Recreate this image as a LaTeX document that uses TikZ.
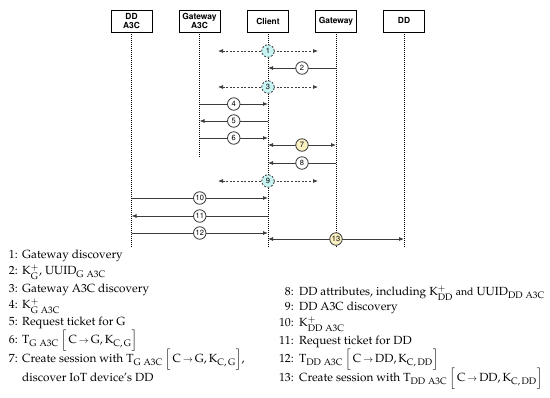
\documentclass[tikz,border=0pt]{standalone}
\usepackage[T1]{fontenc}
\usepackage{mathpazo}
\usetikzlibrary{arrows.meta}
\DeclareMathSizes{11.8}{11.8}{9.4}{7}
\definecolor{cyanfill}{HTML}{C8F4F4}
\definecolor{yelfill}{HTML}{FBF0C0}
\definecolor{linegray}{HTML}{3C3C3C}
\newcommand{\hdrfont}{\fontsize{8.4}{9.2}\fontfamily{phv}\bfseries\selectfont}
\newcommand{\numfont}{\fontsize{7.5}{8}\fontfamily{phv}\selectfont}
\newcommand{\txtfont}{\fontsize{11.8}{14}\selectfont}
\newcommand{\smallfont}{\fontsize{10.5}{12}\selectfont}
\newcommand{\rmm}[1]{\mathrm{#1}}
\newcommand{\arr}{\,{\scriptstyle\rightarrow}\,}
\begin{document}
\begin{tikzpicture}[x=1pt,y=-1pt,
  actor/.style={draw, line width=0.8pt, minimum width=41pt, minimum height=22pt,
    inner sep=1pt, align=center, font=\hdrfont, fill=white},
  life/.style={line width=0.7pt, dash pattern=on 1pt off 1pt},
  msg/.style={draw=linegray, line width=0.8pt, -{Latex[length=5pt,width=4pt]}},
  dmsg/.style={draw=linegray, line width=0.8pt, {Latex[length=5pt,width=4pt]}-{Latex[length=5pt,width=4pt]}},
  disc/.style={draw=linegray, line width=0.7pt, dash pattern=on 2pt off 1.6pt,
    {Latex[length=5pt,width=4pt]}-{Latex[length=5pt,width=4pt]}},
  num/.style={circle, draw, line width=0.8pt, fill=white, minimum size=12.5pt,
    inner sep=0pt, font=\numfont},
  lbl/.style={anchor=base east, inner sep=0pt, font=\txtfont},
  txt/.style={anchor=base west, inner sep=0pt, font=\txtfont}
]
\useasboundingbox (0,0) rectangle (550,398);

% actors
\node[actor] (hDDA) at (131.5,21) {DD\\A3C};
\node[actor] (hGWA) at (199.5,21) {Gateway\\A3C};
\node[actor] (hCL)  at (268,21) {Client};
\node[actor] (hGW)  at (336,21) {Gateway};
\node[actor] (hDD)  at (404,21) {DD};

% lifelines
\coordinate (eDDA) at (131.5,247);
\coordinate (eGWA) at (199.5,158);
\coordinate (eCL)  at (268,247);
\coordinate (eGW)  at (336,247);
\coordinate (eDD)  at (404,247);
\draw[life] (hDDA.south) -- (eDDA);
\draw[life] (hGWA.south) -- (eGWA);
\draw[life] (hCL.south) -- (eCL);
\draw[life] (hGW.south) -- (eGW);
\draw[life] (hDD.south) -- (eDD);

% message end points
\coordinate (m1a) at (218,51);   \coordinate (m1b) at (318,51);
\coordinate (m2a) at (336,68);   \coordinate (m2b) at (268,68);
\coordinate (m3a) at (218,87);   \coordinate (m3b) at (318,87);
\coordinate (m4a) at (199.5,104); \coordinate (m4b) at (268,104);
\coordinate (m5a) at (268,121);  \coordinate (m5b) at (199.5,121);
\coordinate (m6a) at (199.5,138); \coordinate (m6b) at (268,138);
\coordinate (m7a) at (268,145);  \coordinate (m7b) at (336,145);
\coordinate (m8a) at (336,163);  \coordinate (m8b) at (268,163);
\coordinate (m9a) at (218,181);  \coordinate (m9b) at (318,181);
\coordinate (m10a) at (131.5,198); \coordinate (m10b) at (268,198);
\coordinate (m11a) at (268,216); \coordinate (m11b) at (131.5,216);
\coordinate (m12a) at (131.5,233); \coordinate (m12b) at (268,233);
\coordinate (m13a) at (268,239); \coordinate (m13b) at (404,239);

\draw[disc] (m1a) -- node[num, fill=cyanfill] (n1) {1} (m1b);
\draw[msg]  (m2a) -- node[num] (n2) {2} (m2b);
\draw[disc] (m3a) -- node[num, fill=cyanfill] (n3) {3} (m3b);
\draw[msg]  (m4a) -- node[num] (n4) {4} (m4b);
\draw[msg]  (m5a) -- node[num] (n5) {5} (m5b);
\draw[msg]  (m6a) -- node[num] (n6) {6} (m6b);
\draw[dmsg] (m7a) -- node[num, fill=yelfill] (n7) {7} (m7b);
\draw[msg]  (m8a) -- node[num] (n8) {8} (m8b);
\draw[disc] (m9a) -- node[num, fill=cyanfill] (n9) {9} (m9b);
\draw[msg]  (m10a) -- node[num] (n10) {10} (m10b);
\draw[msg]  (m11a) -- node[num] (n11) {11} (m11b);
\draw[msg]  (m12a) -- node[num] (n12) {12} (m12b);
\draw[dmsg] (m13a) -- node[num, fill=yelfill] (n13) {13} (m13b);

% legend, left column
\node[lbl] (l1) at (18,259) {1:};
\node[txt] (t1) at (22,259) {Gateway discovery};
\node[lbl] (l2) at (18,275) {2:};
\node[txt] (t2) at (22,275) {$\rmm{K}^{+}_{\rmm{G}}$, $\rmm{UUID}_{\rmm{G\ A3C}}$};
\node[lbl] (l3) at (18,293) {3:};
\node[txt] (t3) at (22,293) {Gateway A3C discovery};
\node[lbl] (l4) at (18,309) {4:};
\node[txt] (t4) at (22,309) {$\rmm{K}^{+}_{\rmm{G\ A3C}}$};
\node[lbl] (l5) at (18,326) {5:};
\node[txt] (t5) at (22,326) {Request ticket for G};
\node[lbl] (l6) at (18,344) {6:};
\node[txt] (t6) at (22,344) {$\rmm{T}_{\rmm{G\ A3C}}\,\Bigl[\,\rmm{C}\arr\rmm{G},\rmm{K}_{\rmm{C,\,G}}\Bigr]$};
\node[lbl] (l7) at (18,363) {7:};
\node[txt] (t7) at (22,363) {Create session with $\rmm{T}_{\rmm{G\ A3C}}\,\Bigl[\,\rmm{C}\arr\rmm{G},\rmm{K}_{\rmm{C,\,G}}\Bigr]$,};
\node[txt] (t7b) at (22,382) {discover IoT device's DD};

% legend, right column
\node[lbl] (l8) at (294,296) {8:};
\node[txt] (t8) at (299,296) {DD attributes, including $\rmm{K}^{+}_{\rmm{DD}}$ {\smallfont and} $\rmm{UUID}_{\rmm{DD\ A3C}}$};
\node[lbl] (l9) at (294,311) {9:};
\node[txt] (t9) at (299,311) {DD A3C discovery};
\node[lbl] (l10) at (294,327) {10:};
\node[txt] (t10) at (299,327) {$\rmm{K}^{+}_{\rmm{DD\ A3C}}$};
\node[lbl] (l11) at (294,345) {11:};
\node[txt] (t11) at (299,345) {Request ticket for DD};
\node[lbl] (l12) at (294,363) {12:};
\node[txt] (t12) at (299,363) {$\rmm{T}_{\rmm{DD\ A3C}}\,\Bigl[\,\rmm{C}\arr\rmm{DD},\rmm{K}_{\rmm{C,\,DD}}\Bigr]$};
\node[lbl] (l13) at (294,382) {13:};
\node[txt] (t13) at (299,382) {Create session with $\rmm{T}_{\rmm{DD\ A3C}}\,\Bigl[\,\rmm{C}\arr\rmm{DD},\rmm{K}_{\rmm{C,\,DD}}\Bigr]$};
\end{tikzpicture}
\end{document}
